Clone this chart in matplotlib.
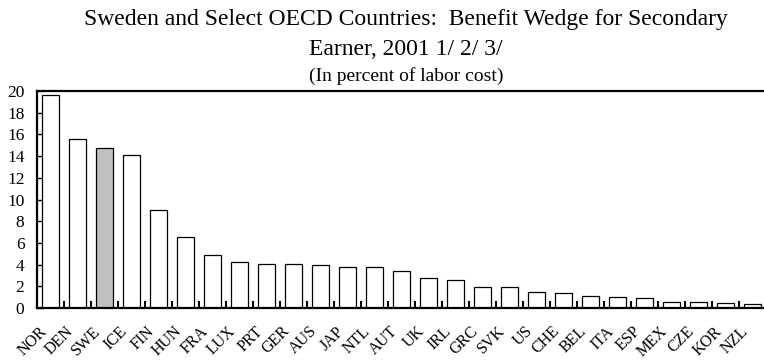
import matplotlib
matplotlib.use("Agg")
import matplotlib.pyplot as plt
import matplotlib.transforms as mtransforms
import numpy as np

# Benefit wedge for secondary earner, 2001 (percent of labor cost)
countries = ["NOR", "DEN", "SWE", "ICE", "FIN", "HUN", "FRA", "LUX", "PRT", "GER",
             "AUS", "JAP", "NTL", "AUT", "UK", "IRL", "GRC", "SVK", "US", "CHE",
             "BEL", "ITA", "ESP", "MEX", "CZE", "KOR", "NZL"]
wedge = [19.6, 15.6, 14.75, 14.1, 9.0, 6.5, 4.85, 4.2, 4.05, 4.05,
         4.0, 3.8, 3.75, 3.43, 2.72, 2.6, 1.89, 1.89, 1.48, 1.42,
         1.15, 0.99, 0.96, 0.59, 0.59, 0.5, 0.4]
highlight = "SWE"
yticks = [0, 2, 4, 6, 8, 10, 12, 14, 16, 18, 20]

plt.rcParams['font.family'] = ['Liberation Serif', 'DejaVu Serif']

fig = plt.figure(figsize=(7.64, 3.6), dpi=100)
ax = fig.add_axes([37 / 764, 52 / 360, 729 / 764, 217 / 360])

x = np.arange(len(countries))
colors = ["#c0c0c0" if c == highlight else "white" for c in countries]
ax.bar(x, wedge, width=0.6, color=colors, edgecolor="black", linewidth=0.9, zorder=2)

ax.set_xlim(-0.5, len(countries) - 0.5)
ax.set_ylim(0, 20)
ax.set_yticks(yticks)
ax.tick_params(axis="y", direction="in", length=4, width=1, labelsize=12.5, pad=9)

ax.set_xticks(x)
ax.set_xticklabels(countries, rotation=45, ha="right", rotation_mode="anchor", fontsize=11.5)
ax.tick_params(axis="x", which="major", length=0, pad=11)
ax.set_xticks(np.arange(0.5, len(countries) - 0.5, 1), minor=True)
ax.tick_params(axis="x", which="minor", direction="in", length=5, width=1.5)

# shift the rotated labels left so their ends sit under the bars
shift = mtransforms.ScaledTranslation(-12 / 100, 0, fig.dpi_scale_trans)
for lab in ax.get_xticklabels():
    lab.set_transform(lab.get_transform() + shift)

for side in ["left", "bottom", "top"]:
    ax.spines[side].set_linewidth(1.6)
ax.spines["right"].set_visible(False)

cx = 406 / 764
fig.text(cx, 1 - 25 / 360, "Sweden and Select OECD Countries:  Benefit Wedge for Secondary",
         ha="center", va="baseline", fontsize=17)
fig.text(cx, 1 - 55 / 360, "Earner, 2001 1/ 2/ 3/", ha="center", va="baseline", fontsize=17)
fig.text(cx, 1 - 81 / 360, "(In percent of labor cost)", ha="center", va="baseline", fontsize=14)

fig.savefig("out.png", dpi=100)
